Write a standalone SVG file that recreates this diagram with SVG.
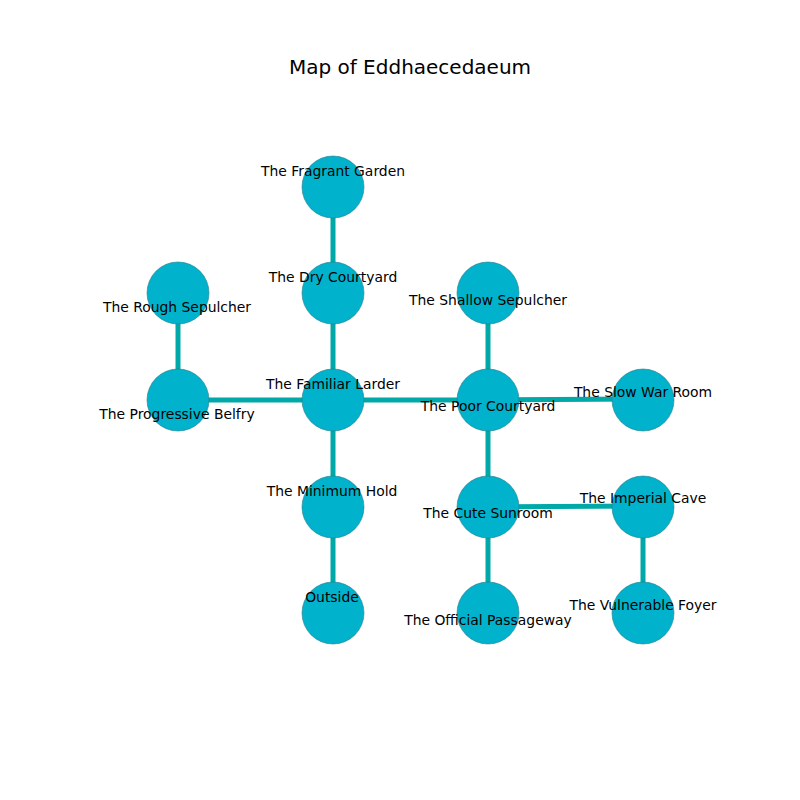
<svg xmlns="http://www.w3.org/2000/svg" width="800" height="800" viewBox="0 0 800 800">
<style>
.e{stroke:#00a8a8;stroke-width:5;fill:none}
.n{fill:#00b2cc;stroke:#2a7d8a;stroke-width:0.6}
.t{font-family:"DejaVu Sans",sans-serif;font-size:13.9px;fill:#000;text-anchor:middle}
.title{font-family:"DejaVu Sans",sans-serif;font-size:20px;fill:#000;text-anchor:middle}
</style>
<rect width="800" height="800" fill="#fff"/>
<text class="title" x="410" y="74">Map of Eddhaecedaeum</text>
<g id="connectors">
<line class="e" x1="333" y1="187" x2="333" y2="293"/>
<line class="e" x1="333" y1="293" x2="333" y2="400"/>
<line class="e" x1="178" y1="293" x2="178" y2="400"/>
<line class="e" x1="178" y1="400" x2="333" y2="400"/>
<line class="e" x1="333" y1="400" x2="488" y2="400"/>
<line class="e" x1="333" y1="400" x2="333" y2="507"/>
<line class="e" x1="333" y1="507" x2="333" y2="613"/>
<line class="e" x1="488" y1="293" x2="488" y2="400"/>
<line class="e" x1="488" y1="400" x2="643" y2="399"/>
<line class="e" x1="488" y1="400" x2="488" y2="507"/>
<line class="e" x1="488" y1="507" x2="643" y2="506"/>
<line class="e" x1="488" y1="507" x2="488" y2="613"/>
<line class="e" x1="643" y1="507" x2="643" y2="613"/>
</g>
<g id="fragrant-garden"><circle class="n" cx="333" cy="187" r="31"/></g>
<g id="dry-courtyard"><circle class="n" cx="333" cy="293" r="31"/></g>
<g id="rough-sepulcher"><circle class="n" cx="178" cy="293" r="31"/></g>
<g id="progressive-belfry"><circle class="n" cx="178" cy="400" r="31"/></g>
<g id="familiar-larder"><circle class="n" cx="333" cy="400" r="31"/></g>
<g id="shallow-sepulcher"><circle class="n" cx="488" cy="293" r="31"/></g>
<g id="poor-courtyard"><circle class="n" cx="488" cy="400" r="31"/></g>
<g id="slow-war-room"><circle class="n" cx="643" cy="400" r="31"/></g>
<g id="minimum-hold"><circle class="n" cx="333" cy="507" r="31"/></g>
<g id="cute-sunroom"><circle class="n" cx="488" cy="507" r="31"/></g>
<g id="imperial-cave"><circle class="n" cx="643" cy="507" r="31"/></g>
<g id="outside"><circle class="n" cx="333" cy="613" r="31"/></g>
<g id="official-passageway"><circle class="n" cx="488" cy="613" r="31"/></g>
<g id="vulnerable-foyer"><circle class="n" cx="643" cy="613" r="31"/></g>
<g id="labels">
<text class="t" x="333" y="176">The Fragrant Garden</text>
<text class="t" x="333" y="282">The Dry Courtyard</text>
<text class="t" x="177" y="312">The Rough Sepulcher</text>
<text class="t" x="177" y="419">The Progressive Belfry</text>
<text class="t" x="333" y="389">The Familiar Larder</text>
<text class="t" x="488" y="305">The Shallow Sepulcher</text>
<text class="t" x="488" y="411">The Poor Courtyard</text>
<text class="t" x="643" y="397">The Slow War Room</text>
<text class="t" x="332" y="496">The Minimum Hold</text>
<text class="t" x="488" y="518">The Cute Sunroom</text>
<text class="t" x="643" y="503">The Imperial Cave</text>
<text class="t" x="332" y="602">Outside</text>
<text class="t" x="488" y="625">The Official Passageway</text>
<text class="t" x="643" y="610">The Vulnerable Foyer</text>
</g>
</svg>
